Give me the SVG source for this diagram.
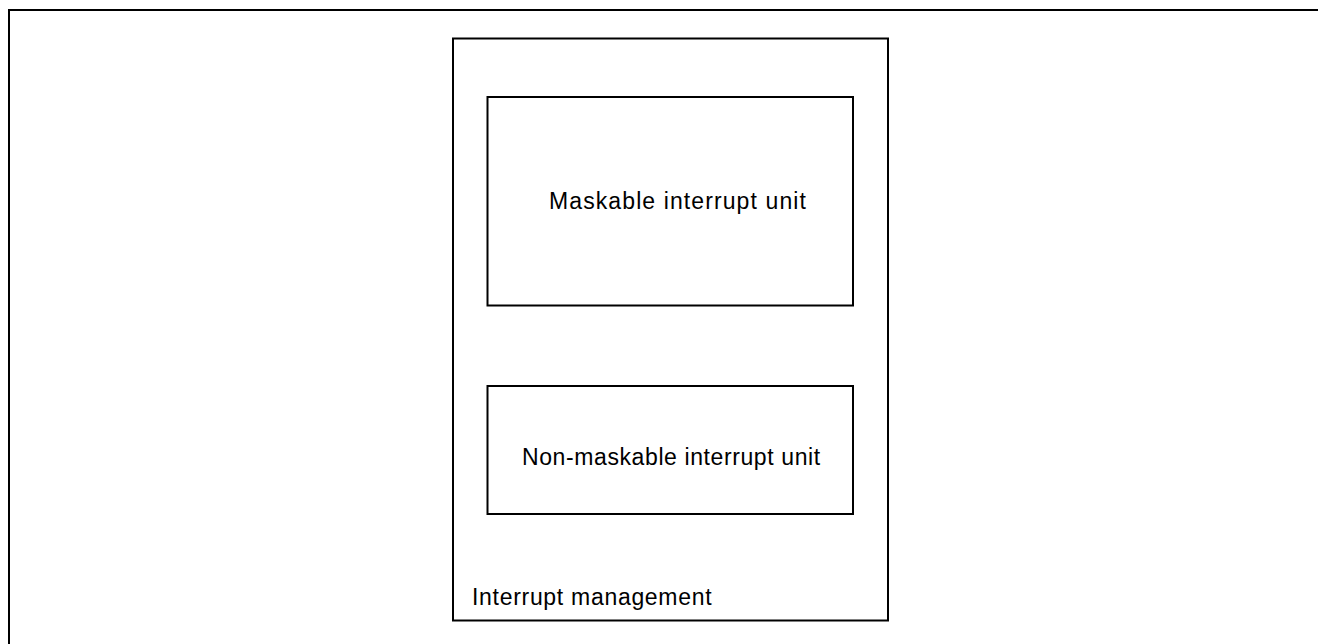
<svg xmlns="http://www.w3.org/2000/svg" width="1318" height="644" viewBox="0 0 1318 644">
<style>
.box{fill:#fff;stroke:#000;stroke-width:2}
.t{font-family:"Liberation Sans",Arial,sans-serif;font-size:23px;letter-spacing:0.8px;fill:#000}
</style>
<rect width="1318" height="644" fill="#fff"/>
<g id="frame"><path d="M9 644 V10 H1318" fill="none" stroke="#000" stroke-width="2"/></g>
<g id="interrupt-management">
<rect class="box" x="453" y="38.5" width="435" height="582"/>
<text class="t" x="472" y="605" style="letter-spacing:0.7px">Interrupt management</text>
</g>
<g id="maskable">
<rect class="box" x="487.5" y="97" width="365.5" height="208.5"/>
<text class="t" x="549" y="209" style="letter-spacing:1.1px">Maskable interrupt unit</text>
</g>
<g id="non-maskable">
<rect class="box" x="487.5" y="386" width="365.5" height="128"/>
<text class="t" x="522" y="465" style="letter-spacing:0.6px">Non-maskable interrupt unit</text>
</g>
<g id="connectors"></g>
</svg>
